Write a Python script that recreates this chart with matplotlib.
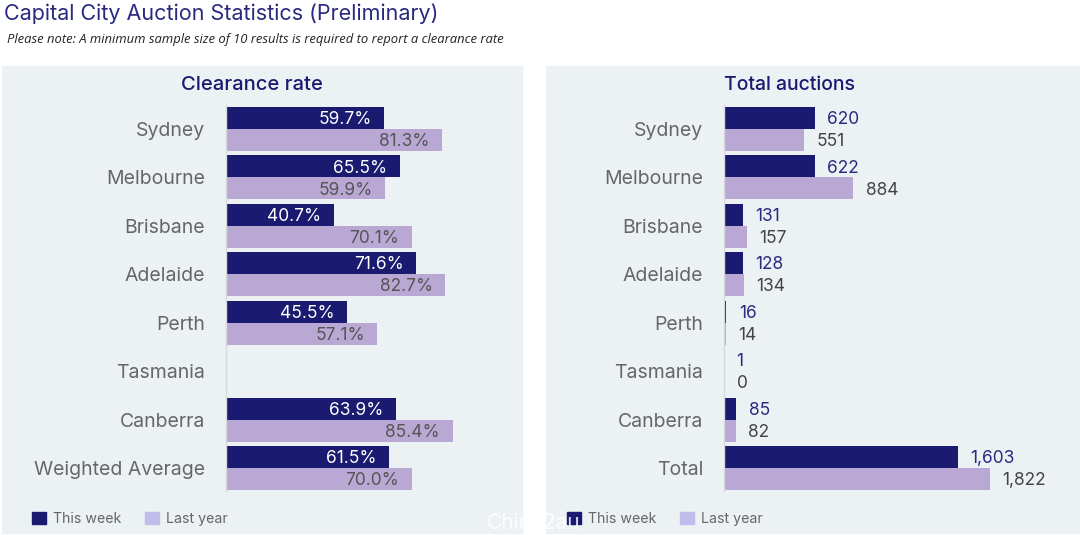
### Capital city auction statistics, this week vs last year

import matplotlib.pyplot as plt
from matplotlib.patches import Rectangle

### data
cities_left = ['Sydney', 'Melbourne', 'Brisbane', 'Adelaide', 'Perth', 'Tasmania', 'Canberra', 'Weighted Average']
cities_right = ['Sydney', 'Melbourne', 'Brisbane', 'Adelaide', 'Perth', 'Tasmania', 'Canberra', 'Total']
# None == not enough results to report a clearance rate
rate_this_week = [59.7, 65.5, 40.7, 71.6, 45.5, None, 63.9, 61.5]
rate_last_year = [81.3, 59.9, 70.1, 82.7, 57.1, None, 85.4, 70.0]
total_this_week = [620, 622, 131, 128, 16, 1, 85, 1603]
total_last_year = [551, 884, 157, 134, 14, 0, 82, 1822]

plt.rcParams['font.family'] = ['Inter', 'DejaVu Sans']

# colors
navy = '#1a1a70'
lilac = '#b9a8d4'
legend_lilac = '#c2bcea'
panel = '#ecf1f4'
grey = '#666666'

W = 1080
H = 535
fig = plt.figure(figsize=(W/100, H/100), dpi=100)

# panels behind the charts (pixel positions from the top left)
fig.add_artist(Rectangle((2/W, 1-533/H), 520/W, 467/H, transform=fig.transFigure, color=panel, zorder=-5))
fig.add_artist(Rectangle((546/W, 1-533/H), 534/W, 467/H, transform=fig.transFigure, color=panel, zorder=-5))

# headings
fig.text(4/W, 1-13.5/H, 'Capital City Auction Statistics (Preliminary)', fontsize=15.5, color='#2a2a80', va='center')
fig.text(7/W, 1-40/H, 'Please note: A minimum sample size of 10 results is required to report a clearance rate',
         fontsize=9.4, style='italic', family='Open Sans', color='#222222', va='center')
fig.text(251.5/W, 1-85.5/H, 'Clearance rate', fontsize=14.5, weight='medium', color=navy, ha='center', va='center')
fig.text(789/W, 1-85.5/H, 'Total auctions', fontsize=14, weight='medium', color=navy, ha='center', va='center')


def bar_panel(left, width, xmax, names, this_week, last_year):
    # one axes per panel, rows count downwards from the top
    ax = fig.add_axes([left/W, 1-491/H, width/W, 386/H], facecolor='none')
    rows = range(len(names))
    ax.barh([r-0.227 for r in rows], [v or 0 for v in this_week], height=0.454, color=navy)
    ax.barh([r+0.227 for r in rows], [v or 0 for v in last_year], height=0.454, color=lilac)
    ax.set_xlim(0, xmax)
    ax.set_ylim(7.475, -0.496)
    ax.set_yticks(list(rows))
    ax.set_yticklabels(names, fontsize=14, color=grey)
    ax.tick_params(axis='y', length=0, pad=15)
    ax.set_xticks([])
    for side in ['top', 'right', 'bottom']:
        ax.spines[side].set_visible(False)
    ax.spines['left'].set_color('#d5d8dc')
    ax.spines['left'].set_linewidth(1)
    return ax


### clearance rate
ax1 = bar_panel(226, 280, 280/2.653, cities_left, rate_this_week, rate_last_year)
for r in range(8):
    if rate_this_week[r] is None:
        continue
    ax1.annotate('{:.1f}%'.format(rate_this_week[r]), (rate_this_week[r], r-0.227), xytext=(-9, -1.2),
                 textcoords='offset points', ha='right', va='center', fontsize=12.5, color='white')
    ax1.annotate('{:.1f}%'.format(rate_last_year[r]), (rate_last_year[r], r+0.227), xytext=(-9, -1.2),
                 textcoords='offset points', ha='right', va='center', fontsize=12.5, color='#555555')

### total auctions
ax2 = bar_panel(724, 340, 340/0.146, cities_right, total_this_week, total_last_year)
for r in range(8):
    ax2.annotate('{:,}'.format(total_this_week[r]), (total_this_week[r], r-0.227), xytext=(9, -1.2),
                 textcoords='offset points', ha='left', va='center', fontsize=12.5, color='#2a2a80')
    ax2.annotate('{:,}'.format(total_last_year[r]), (total_last_year[r], r+0.227), xytext=(9, -1.2),
                 textcoords='offset points', ha='left', va='center', fontsize=12.5, color='#444444')

# legends sit under the bars, same handles for both panels
for x0 in [32, 567]:
    handles = [Rectangle((0, 0), 1, 1, color=navy), Rectangle((0, 0), 1, 1, color=legend_lilac)]
    fig.legend(handles, ['This week', 'Last year'], ncol=2, frameon=False, fontsize=10.2,
               loc='center left', bbox_to_anchor=(x0/W, 1-519/H), borderaxespad=0, borderpad=0,
               handlelength=0.98, handleheight=0.98, handletextpad=0.5, columnspacing=1.7,
               labelcolor=grey)

# watermark across the gutter
fig.text(487/W, 1-523/H, 'China2au', fontsize=15, color='white', alpha=0.85, va='center', zorder=10)

plt.savefig('out.png', dpi=100)
